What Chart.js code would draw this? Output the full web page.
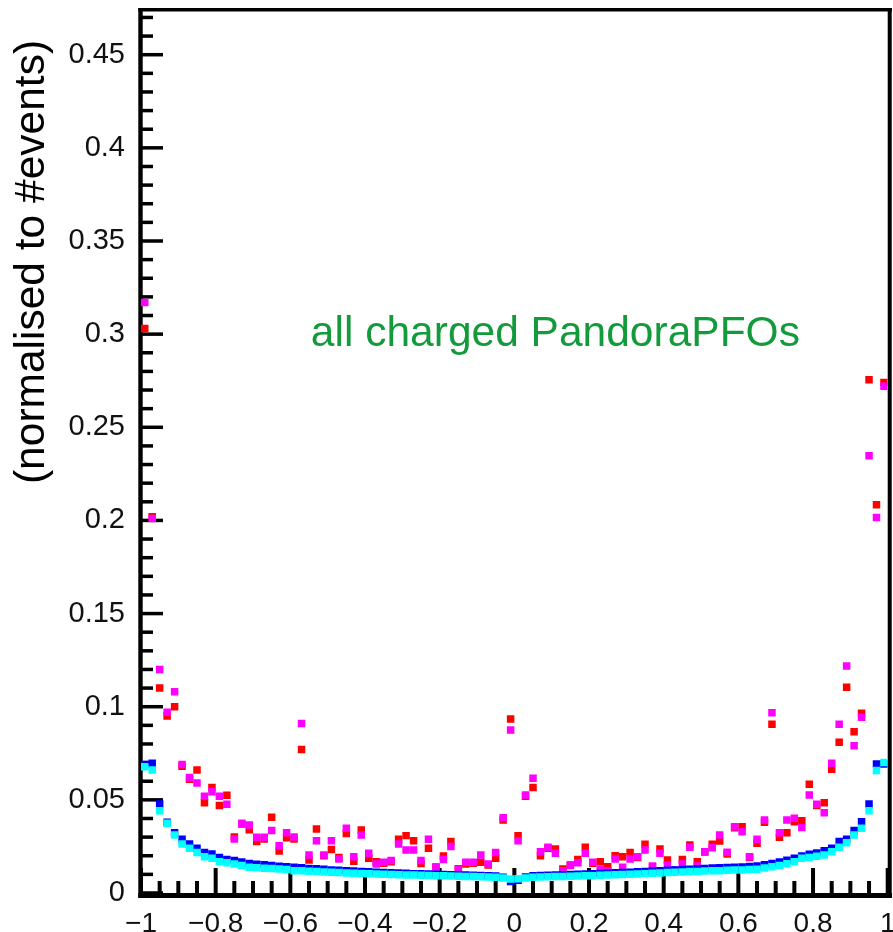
<!DOCTYPE html>
<html>
<head>
<meta charset="utf-8">
<title>all charged PandoraPFOs</title>
<script src="https://cdn.jsdelivr.net/npm/chart.js@4.4.1/dist/chart.umd.min.js"></script>
<style>
  html, body { margin: 0; padding: 0; background: #fff; }
  #wrap { width: 893px; height: 932px; }
</style>
</head>
<body>
<div id="wrap"><canvas id="chart" width="893" height="932"></canvas></div>
<script>
// 100 bins from -1 to 1
const nBins = 100;
const xMin = -1;
const xMax = 1;

const redValues = [
  0.303, 0.202, 0.110, 0.095, 0.100, 0.068, 0.061, 0.066, 0.0485, 0.0566,
  0.047, 0.0525, 0.030, 0.037, 0.034, 0.0276, 0.029, 0.0406, 0.0225, 0.0297,
  0.029, 0.077, 0.0177, 0.0344, 0.020, 0.0234, 0.019, 0.032, 0.017, 0.0338,
  0.0186, 0.0168, 0.016, 0.0168, 0.0288, 0.0308, 0.0281, 0.0159, 0.024, 0.014,
  0.0199, 0.0276, 0.013, 0.0156, 0.016, 0.0165, 0.015, 0.0186, 0.0392, 0.0934,
  0.0308, 0.052, 0.0566, 0.020, 0.024, 0.0236, 0.0129, 0.015, 0.018, 0.0245,
  0.016, 0.0168, 0.0141, 0.020, 0.0195, 0.0217, 0.019, 0.0262, 0.014, 0.0236,
  0.0177, 0.012, 0.018, 0.0258, 0.0168, 0.022, 0.0262, 0.0279, 0.021, 0.035,
  0.0356, 0.019, 0.0267, 0.038, 0.0906, 0.0299, 0.0324, 0.0383, 0.0388, 0.0584,
  0.047, 0.0485, 0.0664, 0.0809, 0.1105, 0.0866, 0.0965, 0.2755, 0.2084, 0.274
];

const magentaValues = [
  0.317, 0.201, 0.120, 0.097, 0.108, 0.069, 0.062, 0.059, 0.052, 0.0544,
  0.052, 0.0476, 0.029, 0.0374, 0.0365, 0.0299, 0.0299, 0.0335, 0.0254, 0.0324,
  0.030, 0.091, 0.0204, 0.0281, 0.0204, 0.028, 0.0183, 0.0347, 0.0195, 0.0311,
  0.0213, 0.0156, 0.0165, 0.0174, 0.0263, 0.0231, 0.0231, 0.0174, 0.0288, 0.0138,
  0.018, 0.0249, 0.0127, 0.0165, 0.0165, 0.0204, 0.0156, 0.0217, 0.0404, 0.0875,
  0.028, 0.0526, 0.0616, 0.0222, 0.0245, 0.0213, 0.012, 0.0147, 0.0163, 0.0213,
  0.0165, 0.0127, 0.012, 0.0183, 0.0138, 0.0183, 0.0195, 0.0231, 0.0145, 0.0213,
  0.015, 0.0124, 0.0156, 0.0245, 0.0145, 0.0222, 0.0243, 0.0311, 0.0219, 0.0356,
  0.0329, 0.0195, 0.0288, 0.0392, 0.0968, 0.0324, 0.0392, 0.0401, 0.0352, 0.0526,
  0.0476, 0.0431, 0.0697, 0.0906, 0.1219, 0.0791, 0.0944, 0.2347, 0.2016, 0.272
];

const blueValues = [
  0.069, 0.0697, 0.0478, 0.038, 0.0324, 0.0288, 0.0263, 0.024, 0.0218, 0.0209,
  0.0191, 0.018, 0.0174, 0.0166, 0.0159, 0.0155, 0.0151, 0.0148, 0.0144, 0.0141,
  0.0138, 0.0135, 0.0132, 0.013, 0.0127, 0.0124, 0.0122, 0.012, 0.0118, 0.0116,
  0.0114, 0.0112, 0.011, 0.0109, 0.0107, 0.0106, 0.0104, 0.0103, 0.0102, 0.0101,
  0.0099, 0.0098, 0.0097, 0.0096, 0.0095, 0.0094, 0.0093, 0.0091, 0.0085, 0.0062,
  0.0068, 0.0086, 0.0092, 0.0094, 0.0095, 0.0097, 0.0098, 0.0099, 0.0101, 0.0102,
  0.0104, 0.0105, 0.0107, 0.0109, 0.011, 0.0112, 0.0114, 0.0116, 0.0118, 0.012,
  0.0122, 0.0124, 0.0126, 0.0128, 0.013, 0.0132, 0.0134, 0.0136, 0.0137, 0.0138,
  0.0139, 0.0142, 0.0145, 0.0152, 0.0158, 0.0166, 0.0176, 0.0186, 0.0198, 0.0208,
  0.0215, 0.0227, 0.024, 0.0276, 0.0288, 0.0335, 0.0383, 0.0478, 0.0693, 0.0693
];

const cyanValues = [
  0.0678, 0.066, 0.0442, 0.0374, 0.0311, 0.0263, 0.024, 0.0218, 0.0195, 0.0186,
  0.0168, 0.0163, 0.0156, 0.0148, 0.0138, 0.0136, 0.0133, 0.0131, 0.0129, 0.0126,
  0.012, 0.0119, 0.0117, 0.0115, 0.0113, 0.0111, 0.011, 0.0108, 0.0106, 0.0105,
  0.0103, 0.0102, 0.01, 0.0099, 0.0098, 0.0097, 0.0096, 0.0095, 0.0094, 0.0093,
  0.0092, 0.0091, 0.009, 0.0089, 0.0088, 0.0087, 0.0086, 0.0084, 0.0081, 0.0075,
  0.0077, 0.0081, 0.0084, 0.0086, 0.0087, 0.0088, 0.0089, 0.009, 0.0091, 0.0092,
  0.0093, 0.0095, 0.0096, 0.0098, 0.0099, 0.0101, 0.0102, 0.0104, 0.0106, 0.0108,
  0.011, 0.0111, 0.0113, 0.0115, 0.0116, 0.0118, 0.0119, 0.012, 0.0122, 0.0123,
  0.0124, 0.0126, 0.0127, 0.0134, 0.0141, 0.0147, 0.0157, 0.0168, 0.0186, 0.019,
  0.0197, 0.0204, 0.0222, 0.0245, 0.027, 0.0311, 0.0347, 0.0442, 0.0657, 0.070
];

const xTickValues = [-1, -0.8, -0.6, -0.4, -0.2, 0, 0.2, 0.4, 0.6, 0.8, 1];
const xTickLabels = ['\u22121', '\u22120.8', '\u22120.6', '\u22120.4', '\u22120.2', '0', '0.2', '0.4', '0.6', '0.8', '1'];
const yTickValues = [0, 0.05, 0.1, 0.15, 0.2, 0.25, 0.3, 0.35, 0.4, 0.45];
const yTickLabels = ['0', '0.05', '0.1', '0.15', '0.2', '0.25', '0.3', '0.35', '0.4', '0.45'];

const yTitle = '(normalised to #events)';
const noteText = 'all charged PandoraPFOs';

const FONT = '"Liberation Sans", Arial, Helvetica, sans-serif';

const binWidth = (xMax - xMin) / nBins;
const binCenters = Array.from({ length: nBins }, (_, i) => xMin + (i + 0.5) * binWidth);
const toPoints = vals => vals.map((v, i) => ({ x: binCenters[i], y: v }));

function markerSet(label, values, color) {
  return {
    label,
    data: toPoints(values),
    showLine: false,
    pointStyle: 'rect',
    pointRadius: 5.3,
    pointHoverRadius: 5.3,
    pointBorderWidth: 0,
    backgroundColor: color,
    borderColor: color,
  };
}

// ROOT-style frame with inward ticks, drawn under the markers
const frameTicks = {
  id: 'frameTicks',
  beforeDatasetsDraw(chart) {
    const { ctx, chartArea: a, scales: { x, y } } = chart;
    ctx.save();
    ctx.fillStyle = '#000';
    for (let k = 0; k <= 47; k++) {
      const py = y.getPixelForValue(k / 100);
      const len = k % 5 === 0 ? 22 : 12;
      ctx.fillRect(a.left, py - 1.75, len, 3.5);
    }
    for (let k = 0; k <= 40; k++) {
      const px = x.getPixelForValue(xMin + k * 0.05);
      const len = k % 4 === 0 ? 25 : 12;
      ctx.fillRect(px - 2, a.bottom - len, 4, len);
    }
    ctx.fillRect(a.left - 2.7, a.top - 2, 4.4, a.bottom - a.top + 7);
    ctx.fillRect(a.left - 2.7, a.top - 2, a.right - a.left + 7, 3.5);
    ctx.fillRect(a.right, a.top - 2, 4, a.bottom - a.top + 7);
    ctx.fillRect(a.left - 2.7, a.bottom, a.right - a.left + 7, 5);
    ctx.restore();
  },
  afterDraw(chart) {
    const { ctx, scales: { x, y } } = chart;
    ctx.save();
    ctx.font = '42.5px ' + FONT;
    ctx.fillStyle = '#139a3b';
    ctx.textAlign = 'left';
    ctx.textBaseline = 'alphabetic';
    ctx.fillText(noteText, x.getPixelForValue(-0.545), y.getPixelForValue(0.2935));

    ctx.translate(32, 262);
    ctx.rotate(-Math.PI / 2);
    ctx.font = '42.5px ' + FONT;
    ctx.fillStyle = '#000';
    ctx.textAlign = 'center';
    ctx.textBaseline = 'middle';
    ctx.fillText(yTitle, 0, 0);
    ctx.restore();
  }
};

new Chart(document.getElementById('chart').getContext('2d'), {
  type: 'scatter',
  data: {
    datasets: [
      markerSet('cyan', cyanValues, '#00ffff'),
      markerSet('blue', blueValues, '#0000ff'),
      markerSet('magenta', magentaValues, '#ff00ff'),
      markerSet('red', redValues, '#ff0000'),
    ],
  },
  options: {
    responsive: false,
    animation: false,
    devicePixelRatio: 1,
    layout: { padding: { top: 10, right: 5, left: 0, bottom: 0 } },
    plugins: {
      legend: { display: false },
      tooltip: { enabled: false },
    },
    scales: {
      x: {
        type: 'linear',
        min: xMin,
        max: xMax,
        grid: { display: false },
        border: { display: false },
        afterBuildTicks: s => { s.ticks = xTickValues.map(v => ({ value: v })); },
        afterFit: s => { s.height = 39; s.paddingLeft = 0; s.paddingRight = 0; },
        ticks: {
          autoSkip: false,
          maxRotation: 0,
          minRotation: 0,
          padding: 6,
          color: '#111',
          font: { family: FONT, size: 28 },
          callback: (v, i) => xTickLabels[i],
        },
      },
      y: {
        type: 'linear',
        min: 0,
        max: 0.474,
        grid: { display: false },
        border: { display: false },
        afterBuildTicks: s => { s.ticks = yTickValues.map(v => ({ value: v })); },
        afterFit: s => { s.width = 141; s.paddingTop = 0; s.paddingBottom = 0; },
        ticks: {
          autoSkip: false,
          padding: 8,
          color: '#111',
          font: { family: FONT, size: 29 },
          callback: (v, i) => yTickLabels[i],
        },
      },
    },
  },
  plugins: [frameTicks],
});
</script>
</body>
</html>
